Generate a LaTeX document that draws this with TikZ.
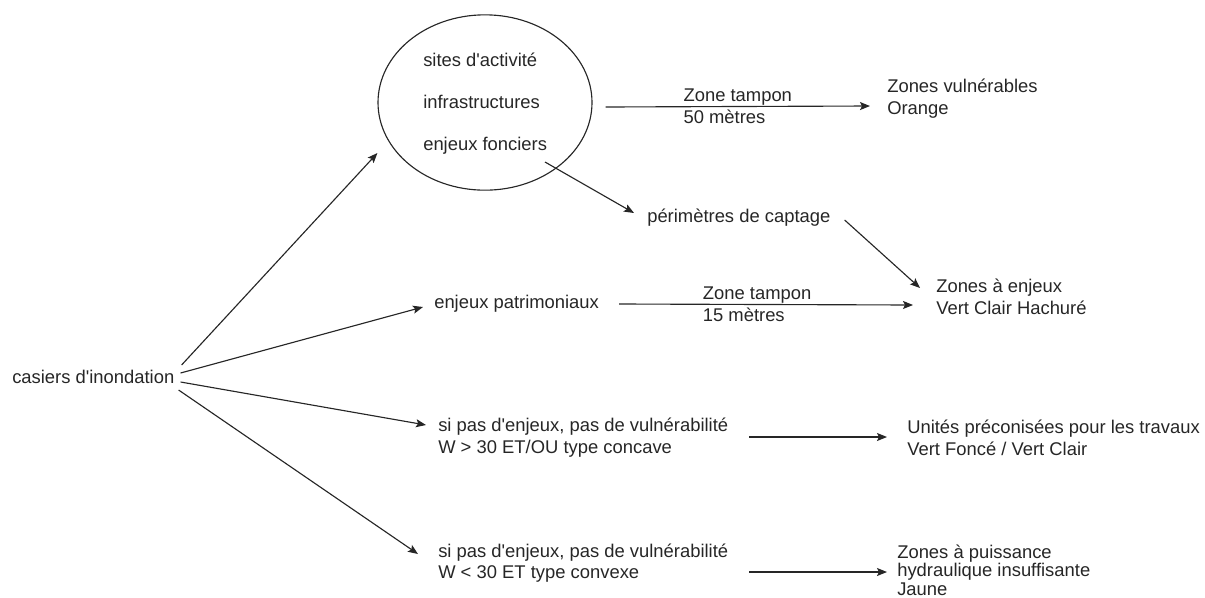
\documentclass[tikz,border=0pt]{standalone}
\usepackage{fontspec}
\setmainfont{Liberation Sans}
\usetikzlibrary{shapes.geometric,arrows.meta,calc}
\newcommand{\apo}{\textquotesingle}
\begin{document}
\begin{tikzpicture}[x=0.75pt,y=-0.75pt,
  txt/.style={anchor=west,inner sep=0pt,align=left,font=\fontsize{13.8}{16.3}\selectfont,text=black!85},
  lbl/.style={inner sep=0pt,align=left,font=\fontsize{13.8}{16.3}\selectfont,text=black!85},
  arr/.style={-{Stealth[length=7.5pt,width=6pt,inset=1.5pt]},line width=0.85pt,draw=black!85},
  ellbox/.style={ellipse,draw=black!85,line width=0.85pt,minimum width=160.5pt,minimum height=131.5pt,inner sep=0pt}]
\useasboundingbox (0,0) rectangle (1205,597);
% nodes
\node[txt] (cas) at (12,377) {casiers d\apo inondation};
\node[ellbox] (ell) at (485,102.5) {};
\node[txt] (sites) at (423,60) {sites d\apo activité};
\node[txt] (infra) at (423,102) {infrastructures};
\node[txt] (fonc) at (423,146) {enjeux fonciers};
\node[txt] (zv) at (887,98.5) {Zones vulnérables\\Orange};
\node[txt] (per) at (647,218) {périmètres de captage};
\node[txt] (ze) at (936,296.5) {Zones à enjeux\\Vert Clair Hachuré};
\node[txt] (pat) at (434,304) {enjeux patrimoniaux};
\node[txt] (sp1) at (438,437.5) {si pas d\apo enjeux, pas de vulnérabilité\\W > 30 ET/OU type concave};
\node[txt] (up) at (907,437.5) {Unités préconisées pour les travaux\\Vert Foncé / Vert Clair};
\node[txt] (sp2) at (438,563) {si pas d\apo enjeux, pas de vulnérabilité\\W < 30 ET type convexe};
\node[txt,font=\fontsize{13.8}{14}\selectfont] (zp) at (897,570) {Zones à puissance\\hydraulique insuffisante\\Jaune};
% connectors
\draw[arr] ($(cas.east)+(7,-12)$) -- ($(ell.west)+(0,50.5)$);
\draw[arr] ($(cas.east)+(6,-4)$) -- ($(pat.west)+(-11,3)$);
\draw[arr] ($(cas.east)+(6,5)$) -- ($(sp1.west)+(-12,-12.5)$);
\draw[arr] ($(cas.east)+(4,13)$) -- ($(sp2.west)+(-20,-9)$);
\draw[arr] ($(ell.east)+(13,4.5)$) -- node[lbl]{Zone tampon\\50 mètres} ($(zv.west)+(-17,7.5)$);
\draw[arr] ($(ell.center)+(60,59.5)$) -- ($(per.west)+(-13,-5)$);
\draw[arr] ($(per.east)+(14,2)$) -- ($(ze.west)+(-16,-8.5)$);
\draw[arr] ($(pat.east)+(20,0)$) -- node[lbl,xshift=-6.75pt]{Zone tampon\\15 mètres} ($(ze.west)+(-23,8.5)$);
\draw[arr] ($(sp1.east)+(21,-0.5)$) -- ($(up.west)+(-20,-0.5)$);
\draw[arr] ($(sp2.east)+(21,9)$) -- ($(zp.west)+(-10,2)$);
\end{tikzpicture}
\end{document}
